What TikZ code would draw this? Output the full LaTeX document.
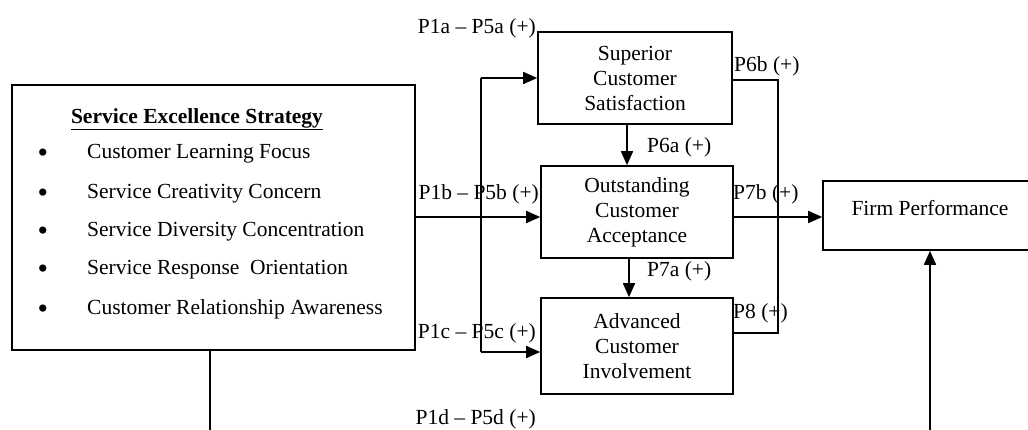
\documentclass[tikz,border=0pt]{standalone}
\usepackage{fontspec}
\setmainfont{Liberation Serif}
\usetikzlibrary{arrows.meta}
\begin{document}
\begin{tikzpicture}[x=1pt,y=-1pt,
  every node/.style={font=\fontsize{21.5}{25}\selectfont},
  box/.style={draw,line width=1.6pt,align=center,inner sep=0pt},
  lbl/.style={inner sep=0pt,text height=0.7em,text depth=0.25em,yshift=-4pt},
  bul/.style={inner sep=0pt,font=\fontsize{30}{30}\selectfont,yshift=-4pt},
  conn/.style={line width=1.6pt},
  arr/.style={line width=1.6pt,-{Triangle[length=14pt,width=12pt]}}]
\useasboundingbox (0,0) rectangle (1028,430);
\clip (0,0) rectangle (1028,430);
% boxes
\node[box,minimum width=403pt,minimum height=265pt] (ses) at (213.5,217.5) {};
\node[box,minimum width=194pt,minimum height=92pt] (scs) at (635,78) {Superior\\Customer\\Satisfaction};
\node[box,minimum width=192pt,minimum height=92pt] (oca) at (637,212) {Outstanding\\Customer\\Acceptance};
\node[box,minimum width=192pt,minimum height=96pt] (aci) at (637,346) {Advanced\\Customer\\Involvement};
\node[box,minimum width=212pt,minimum height=69pt] (fp) at (929,215.5) {};
\node[lbl] (fpt) at (930,209) {Firm Performance};
% SES content
\node[lbl] (title) at (197,117) {\textbf{\underline{Service Excellence Strategy}}};
\foreach \i/\y/\t in {1/152/{Customer Learning Focus},2/192/{Service Creativity Concern},3/230/{Service Diversity Concentration},4/268/{Service Response\ \ Orientation},5/308/{Customer Relationship Awareness}}{
  \node[bul] (b\i) at (43,\y) {•};
  \node[lbl,anchor=west] (it\i) at (87,\y) {\t};
}
% labels
\node[lbl,anchor=east] (l1a) at (536,27) {P1a – P5a (+)};
\node[lbl,anchor=east] (l1b) at (539,193) {P1b – P5b (+)};
\node[lbl,anchor=east] (l1c) at (536,332) {P1c – P5c (+)};
\node[lbl,anchor=east] (l1d) at (536,418) {P1d – P5d (+)};
\node[lbl,anchor=west] (l6a) at (647,146) {P6a (+)};
\node[lbl,anchor=west] (l7a) at (647,270) {P7a (+)};
\node[lbl,anchor=west] (l6b) at (734,65) {P6b (+)};
\node[lbl,anchor=west] (l7b) at (733,193) {P7b (+)};
\node[lbl,anchor=west] (l8) at (733,312) {P8 (+)};
% connectors
\coordinate (dtop) at (481,78);
\coordinate (dbot) at (481,352);
\draw[conn] (dtop) -- (dbot);
\draw[arr] (dtop) -- (scs.west);
\draw[arr] (dbot) -- (dbot -| aci.west);
\draw[arr] ([yshift=0.5pt]ses.east) -- ([yshift=0.5pt]ses.east -| oca.west);
\draw[arr] ([xshift=-8pt]scs.south) -- ([xshift=-10pt]oca.north);
\draw[arr] ([xshift=-8pt]oca.south) -- ([xshift=-8pt]aci.north);
\coordinate (br1) at (778,80);
\coordinate (br2) at (778,333);
\draw[conn] ([yshift=-2pt]scs.east) -- (br1) -- (br2) -- (br2 -| aci.east);
\draw[arr] ([yshift=-5pt]oca.east) -- ([yshift=-5pt]oca.east -| fp.west);
\coordinate (sesb) at (210,440);
\draw[conn] (sesb |- ses.south) -- (sesb);
\coordinate (fpb) at (930,440);
\draw[arr] (fpb) -- (fpb |- fp.south);
\end{tikzpicture}
\end{document}
